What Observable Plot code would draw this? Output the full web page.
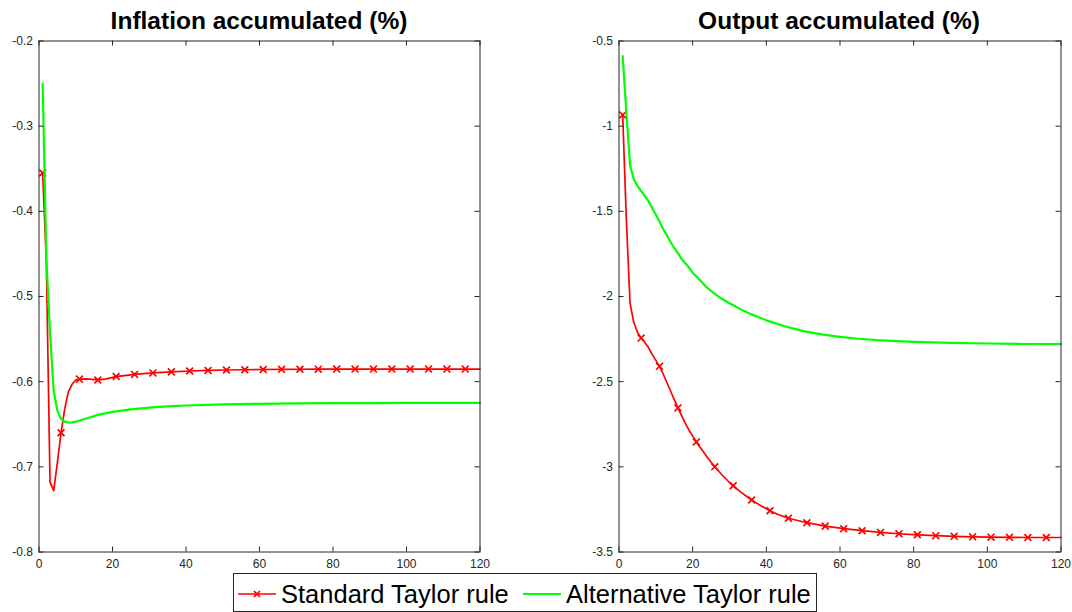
<!DOCTYPE html>
<html><head><meta charset="utf-8">
<script src="https://cdn.jsdelivr.net/npm/d3@7"></script>
<script src="https://cdn.jsdelivr.net/npm/@observablehq/plot@0.6"></script>
<style>
body{margin:0;background:#fff;font-family:"Liberation Sans",Arial,sans-serif;}
#wrap{position:relative;width:1072px;height:612px;overflow:hidden;background:#fff;}
.panel{position:absolute;top:0;}
.title{position:absolute;top:6.5px;font-weight:bold;font-size:24.5px;line-height:28px;color:#000;white-space:nowrap;transform:translateX(-50%);}
#legend{position:absolute;left:233px;top:573px;}
</style></head><body>
<div id="wrap">
  <div class="panel" id="left" style="left:0px"></div>
  <div class="panel" id="right" style="left:536px"></div>
  <div class="title" style="left:259px">Inflation accumulated (%)</div>
  <div class="title" style="left:839px">Output accumulated (%)</div>
  <div id="legend"></div>
</div>
<script>
// ---- data ----
const xTicks = [0, 20, 40, 60, 80, 100, 120];
const inflationTicks = [-0.8, -0.7, -0.6, -0.5, -0.4, -0.3, -0.2];
const outputTicks = [-3.5, -3, -2.5, -2, -1.5, -1, -0.5];
const seriesNames = ["Standard Taylor rule", "Alternative Taylor rule"];

const inflStdX = [1,2,3,4,5,6,7,8,9,10,11,13,16,18,21,26,31,36,41,46,51,56,61,66,71,76,81,86,91,96,101,106,111,116,120];
const inflStdY = [-0.355,-0.46,-0.718,-0.728,-0.695,-0.66,-0.632,-0.612,-0.603,-0.598,-0.597,-0.5968,-0.598,-0.597,-0.594,-0.5915,-0.5897,-0.5885,-0.5875,-0.5868,-0.5863,-0.586,-0.5857,-0.5855,-0.5854,-0.5853,-0.5852,-0.5852,-0.5852,-0.5852,-0.5852,-0.5852,-0.5852,-0.5852,-0.5852];

const inflAltX = [1,2,3,4,5,6,7,8,9,10,12,14,16,20,25,30,35,40,50,60,70,80,90,100,110,120];
const inflAltY = [-0.25,-0.455,-0.543,-0.611,-0.634,-0.644,-0.647,-0.648,-0.6478,-0.647,-0.6445,-0.6418,-0.639,-0.6355,-0.6325,-0.6305,-0.629,-0.628,-0.6267,-0.626,-0.6255,-0.6252,-0.6251,-0.625,-0.625,-0.625];

const outStdX = [1,2,3,4,5,6,7,8,9,10,11,12,13,14,15,16,17,18,19,20,21,22,23,24,25,26,28,30,31,33,36,38,41,43,46,51,56,61,66,71,76,81,86,91,96,101,106,111,116,120];
const outStdY = [-0.934,-1.55,-2.04,-2.15,-2.21,-2.244,-2.27,-2.30,-2.34,-2.375,-2.41,-2.455,-2.505,-2.555,-2.605,-2.654,-2.70,-2.745,-2.785,-2.82,-2.854,-2.885,-2.915,-2.945,-2.973,-3.0,-3.048,-3.092,-3.111,-3.147,-3.195,-3.222,-3.258,-3.278,-3.302,-3.328,-3.348,-3.363,-3.375,-3.385,-3.393,-3.399,-3.404,-3.408,-3.411,-3.413,-3.414,-3.415,-3.415,-3.415];

const outAltX = [1,2,3,4,5,6,7,8,9,10,11,12,13,14,15,16,17,18,19,20,22,24,26,28,30,33,36,40,45,50,55,60,65,70,80,90,100,110,120];
const outAltY = [-0.588,-0.92,-1.23,-1.31,-1.35,-1.38,-1.41,-1.44,-1.48,-1.52,-1.56,-1.605,-1.64,-1.68,-1.715,-1.745,-1.78,-1.805,-1.83,-1.86,-1.905,-1.95,-1.985,-2.015,-2.04,-2.075,-2.105,-2.14,-2.175,-2.203,-2.222,-2.237,-2.248,-2.256,-2.266,-2.272,-2.276,-2.279,-2.28];

// ---- styles ----
const RED = "#ff0000", GREEN = "#00ff00", AXIS = "#262626";
const FONT = "'Liberation Sans', Arial, sans-serif";

function makePanel(cfg) {
  const W = 536, H = 580;
  const plotW = W - cfg.ml - cfg.mr, plotH = H - cfg.mt - cfg.mb;
  const std = cfg.stdX.map((x, i) => ({x, y: cfg.stdY[i]}));
  const alt = cfg.altX.map((x, i) => ({x, y: cfg.altY[i]}));
  const markers = std.filter(d => (d.x - 1) % 5 === 0);
  const tl = 5;
  return Plot.plot({
    width: W, height: H,
    marginLeft: cfg.ml, marginRight: cfg.mr, marginTop: cfg.mt, marginBottom: cfg.mb,
    style: {fontFamily: FONT, fontSize: "12px", color: AXIS, background: "transparent", overflow: "visible"},
    x: {domain: [0, 120], label: null},
    y: {domain: cfg.yDomain, label: null},
    marks: [
      Plot.line(std, {x: "x", y: "y", stroke: RED, strokeWidth: 1.7}),
      Plot.dot(markers, {x: "x", y: "y", symbol: "times", r: 3.2, stroke: RED, strokeWidth: 1.7}),
      Plot.line(alt, {x: "x", y: "y", stroke: GREEN, strokeWidth: 2.2}),
      Plot.tickY(cfg.yTicks, {y: d => d, stroke: AXIS, insetRight: plotW - tl}),
      Plot.tickY(cfg.yTicks, {y: d => d, stroke: AXIS, insetLeft: plotW - tl}),
      Plot.tickX(xTicks, {x: d => d, stroke: AXIS, insetTop: plotH - tl}),
      Plot.tickX(xTicks, {x: d => d, stroke: AXIS, insetBottom: plotH - tl}),
      Plot.axisX(xTicks, {tickSize: 0, tickPadding: 7, tickFormat: d => String(d), label: null, fill: AXIS}),
      Plot.axisY(cfg.yTicks, {tickSize: 0, tickPadding: 6, tickFormat: d => String(d), label: null, fill: AXIS}),
      Plot.frame({stroke: AXIS})
    ]
  });
}

document.getElementById("left").appendChild(makePanel({
  ml: 38.5, mr: 56.5, mt: 40.5, mb: 28.5,
  yDomain: [-0.8, -0.2], yTicks: inflationTicks,
  stdX: inflStdX, stdY: inflStdY, altX: inflAltX, altY: inflAltY
}));
document.getElementById("right").appendChild(makePanel({
  ml: 82.5, mr: 11.5, mt: 40.5, mb: 28.5,
  yDomain: [-3.5, -0.5], yTicks: outputTicks,
  stdX: outStdX, stdY: outStdY, altX: outAltX, altY: outAltY
}));

// ---- legend ----
const LW = 584, LH = 39;
const lg = d3.select("#legend").append("svg").attr("width", LW).attr("height", LH)
  .style("font-family", FONT);
lg.append("rect").attr("x", 0.5).attr("y", 0.5).attr("width", LW - 1).attr("height", LH - 1)
  .attr("fill", "#fff").attr("stroke", AXIS);
const items = [
  {name: seriesNames[0], color: RED, x0: 5, marker: true, sw: 1.7},
  {name: seriesNames[1], color: GREEN, x0: 290, marker: false, sw: 2.2}
];
const cy = 21;
items.forEach(it => {
  lg.append("line").attr("x1", it.x0).attr("x2", it.x0 + 38).attr("y1", cy).attr("y2", cy)
    .attr("stroke", it.color).attr("stroke-width", it.sw);
  if (it.marker) {
    const mx = it.x0 + 19, s = 3;
    lg.append("path").attr("d", `M${mx-s},${cy-s}L${mx+s},${cy+s}M${mx-s},${cy+s}L${mx+s},${cy-s}`)
      .attr("stroke", it.color).attr("stroke-width", 1.7);
  }
  lg.append("text").attr("x", it.x0 + 43).attr("y", cy + 9).attr("font-size", "25.5px")
    .attr("fill", "#000").text(it.name);
});
</script>
</body></html>
